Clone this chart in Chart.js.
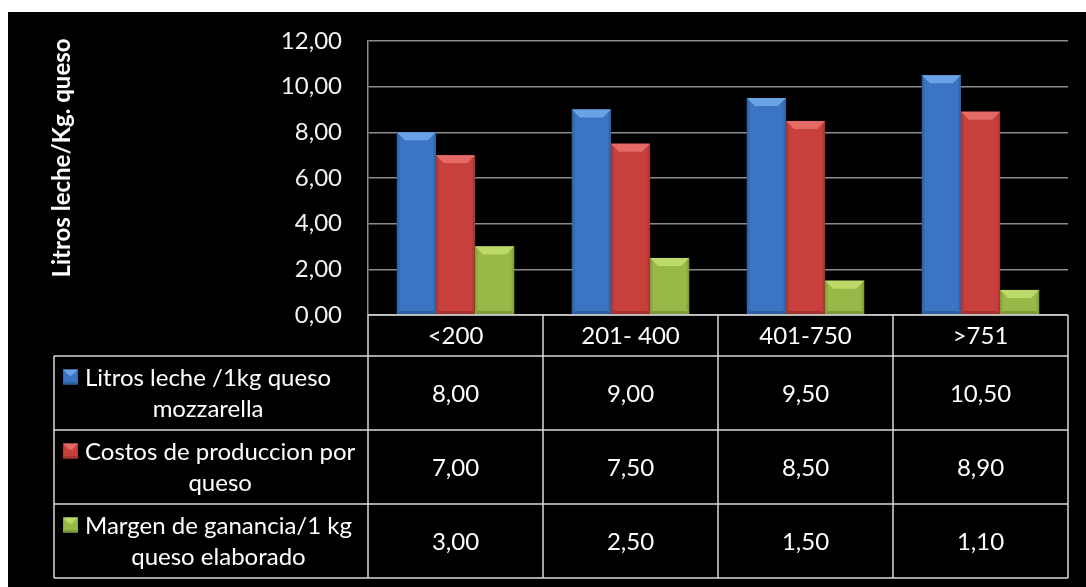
<!DOCTYPE html>
<html>
<head>
<meta charset="utf-8">
<script src="https://cdn.jsdelivr.net/npm/chart.js@4/dist/chart.umd.min.js"></script>
<style>
  html, body { margin: 0; padding: 0; background: #ffffff; }
  #wrap { width: 1086px; height: 587px; position: relative; }
</style>
</head>
<body>
<div id="wrap"><canvas id="c" width="1086" height="587"></canvas></div>
<script>
// Rangos de producción (litros/día)
const categories = ['<200', '201- 400', '401-750', '>751'];

// Series
const litrosLeche = [8.00, 9.00, 9.50, 10.50];
const costosProduccion = [7.00, 7.50, 8.50, 8.90];
const margenGanancia = [3.00, 2.50, 1.50, 1.10];

const seriesNames = [
  ['Litros leche /1kg queso', 'mozzarella'],
  ['Costos de produccion por', 'queso'],
  ['Margen de ganancia/1 kg', 'queso elaborado']
];

const yTickLabels = ['0,00', '2,00', '4,00', '6,00', '8,00', '10,00', '12,00'];
const yTitle = 'Litros leche/Kg. queso';

const palette = [
  { base: '#3a74c2', light: '#6aa2e6', dark: '#2d5f9f' },
  { base: '#c8403c', light: '#e46a65', dark: '#a23330' },
  { base: '#98b948', light: '#bcd96a', dark: '#7c9a36' }
];

const FONT = 'Lato, "Open Sans", sans-serif';
const FS = 24;
const fmt = v => v.toFixed(2).replace('.', ',');

// Background: white page with black panel
const panelPlugin = {
  id: 'panel',
  beforeDraw(chart) {
    const ctx = chart.ctx;
    ctx.save();
    ctx.fillStyle = '#ffffff';
    ctx.fillRect(0, 0, chart.width, chart.height);
    ctx.fillStyle = '#000000';
    ctx.fillRect(8, 12, chart.width - 8, chart.height - 12);
    ctx.restore();
  }
};

// Bevelled look on each bar
function bevel(ctx, x0, x1, top, bottom, col, edge) {
  const w = x1 - x0;
  const h = bottom - top;
  const e = Math.min(edge, h / 2, w / 2);
  // side shading
  let g = ctx.createLinearGradient(x0, 0, x1, 0);
  g.addColorStop(0, col.dark);
  g.addColorStop(0.09, col.base);
  g.addColorStop(0.91, col.base);
  g.addColorStop(1, col.dark);
  ctx.fillStyle = g;
  ctx.fillRect(x0, top, w, h);
  // top facet
  ctx.beginPath();
  ctx.moveTo(x0, top);
  ctx.lineTo(x1, top);
  ctx.lineTo(x1 - e, top + e);
  ctx.lineTo(x0 + e, top + e);
  ctx.closePath();
  ctx.fillStyle = col.light;
  ctx.fill();
  // bottom facet
  ctx.beginPath();
  ctx.moveTo(x0, bottom);
  ctx.lineTo(x1, bottom);
  ctx.lineTo(x1 - e * 0.4, bottom - e * 0.4);
  ctx.lineTo(x0 + e * 0.4, bottom - e * 0.4);
  ctx.closePath();
  ctx.fillStyle = col.dark;
  ctx.fill();
}

const bevelPlugin = {
  id: 'bevel',
  afterDatasetsDraw(chart) {
    const ctx = chart.ctx;
    ctx.save();
    chart.data.datasets.forEach((ds, i) => {
      const meta = chart.getDatasetMeta(i);
      meta.data.forEach(bar => {
        const x0 = bar.x - bar.width / 2;
        const x1 = bar.x + bar.width / 2;
        bevel(ctx, x0, x1, bar.y, bar.base, palette[i], 8);
      });
    });
    ctx.restore();
  }
};

// Data table under the plot plus the vertical axis title
const tablePlugin = {
  id: 'dataTable',
  afterDraw(chart) {
    const ctx = chart.ctx;
    const xs = chart.scales.x;
    const area = chart.chartArea;
    const left = area.left, right = area.right;
    const legendLeft = 54;
    const headerTop = area.bottom;
    const headerBottom = headerTop + 41;
    const rowH = 74;
    const rows = [litrosLeche, costosProduccion, margenGanancia];
    const tableBottom = headerBottom + rowH * rows.length;

    ctx.save();
    ctx.strokeStyle = '#d9d9d9';
    ctx.lineWidth = 1.5;
    ctx.beginPath();
    // header row
    ctx.moveTo(left, headerTop); ctx.lineTo(right, headerTop);
    // body rows
    for (let r = 0; r <= rows.length; r++) {
      const y = headerBottom + r * rowH;
      ctx.moveTo(legendLeft, y); ctx.lineTo(right, y);
    }
    // column separators
    const step = (right - left) / categories.length;
    for (let c = 0; c <= categories.length; c++) {
      const x = left + c * step;
      ctx.moveTo(x, headerTop); ctx.lineTo(x, tableBottom);
    }
    ctx.moveTo(legendLeft, headerBottom); ctx.lineTo(legendLeft, tableBottom);
    ctx.stroke();

    ctx.fillStyle = '#ffffff';
    ctx.font = FS + 'px ' + FONT;
    ctx.textAlign = 'center';
    ctx.textBaseline = 'middle';
    categories.forEach((cat, c) => {
      ctx.fillText(cat, xs.getPixelForValue(c), (headerTop + headerBottom) / 2 + 1);
    });
    rows.forEach((vals, r) => {
      const cy = headerBottom + r * rowH + rowH / 2;
      vals.forEach((v, c) => {
        ctx.fillText(fmt(v), xs.getPixelForValue(c), cy + 1);
      });
      // legend entry: key, then a two-line label block
      const [l1, l2] = seriesNames[r];
      const mk = 15;
      const keyX = legendLeft + 9;
      const textX = keyX + mk + 7;
      const w1 = ctx.measureText(l1).width;
      const w2 = ctx.measureText(l2).width;
      const blockMid = textX + Math.max(w1, w2) / 2;
      const y1 = cy - 16, y2 = cy + 15;
      bevel(ctx, keyX, keyX + mk, y1 - mk / 2, y1 + mk / 2, palette[r], 6);
      ctx.fillStyle = '#ffffff';
      ctx.textAlign = 'center';
      ctx.fillText(l1, blockMid, y1 + 1);
      ctx.fillText(l2, blockMid, y2 + 1);
    });

    // axis title
    ctx.translate(62, 158);
    ctx.rotate(-Math.PI / 2);
    ctx.font = 'bold ' + FS + 'px ' + FONT;
    ctx.textAlign = 'center';
    ctx.textBaseline = 'middle';
    ctx.fillText(yTitle, 0, 0);
    ctx.restore();
  }
};

new Chart(document.getElementById('c'), {
  type: 'bar',
  data: {
    labels: categories,
    datasets: [
      { label: seriesNames[0].join(' '), data: litrosLeche, backgroundColor: palette[0].base },
      { label: seriesNames[1].join(' '), data: costosProduccion, backgroundColor: palette[1].base },
      { label: seriesNames[2].join(' '), data: margenGanancia, backgroundColor: palette[2].base }
    ]
  },
  options: {
    responsive: false,
    animation: false,
    devicePixelRatio: 1,
    layout: { padding: { left: 8, right: 18, top: 41, bottom: 272 } },
    datasets: { bar: { categoryPercentage: 0.67, barPercentage: 1.0, borderWidth: 0 } },
    plugins: { legend: { display: false }, tooltip: { enabled: false } },
    scales: {
      x: { display: false },
      y: {
        min: 0, max: 12,
        afterFit(scale) { scale.width = 360; },
        border: { display: true, color: '#8c8c8c', width: 1.5 },
        grid: { color: '#8c8c8c', lineWidth: 1.5, drawTicks: false },
        ticks: {
          stepSize: 2,
          padding: 26,
          color: '#f2f2f2',
          font: { family: FONT, size: FS },
          callback: (v, i) => yTickLabels[i]
        }
      }
    }
  },
  plugins: [panelPlugin, bevelPlugin, tablePlugin]
});
</script>
</body>
</html>
